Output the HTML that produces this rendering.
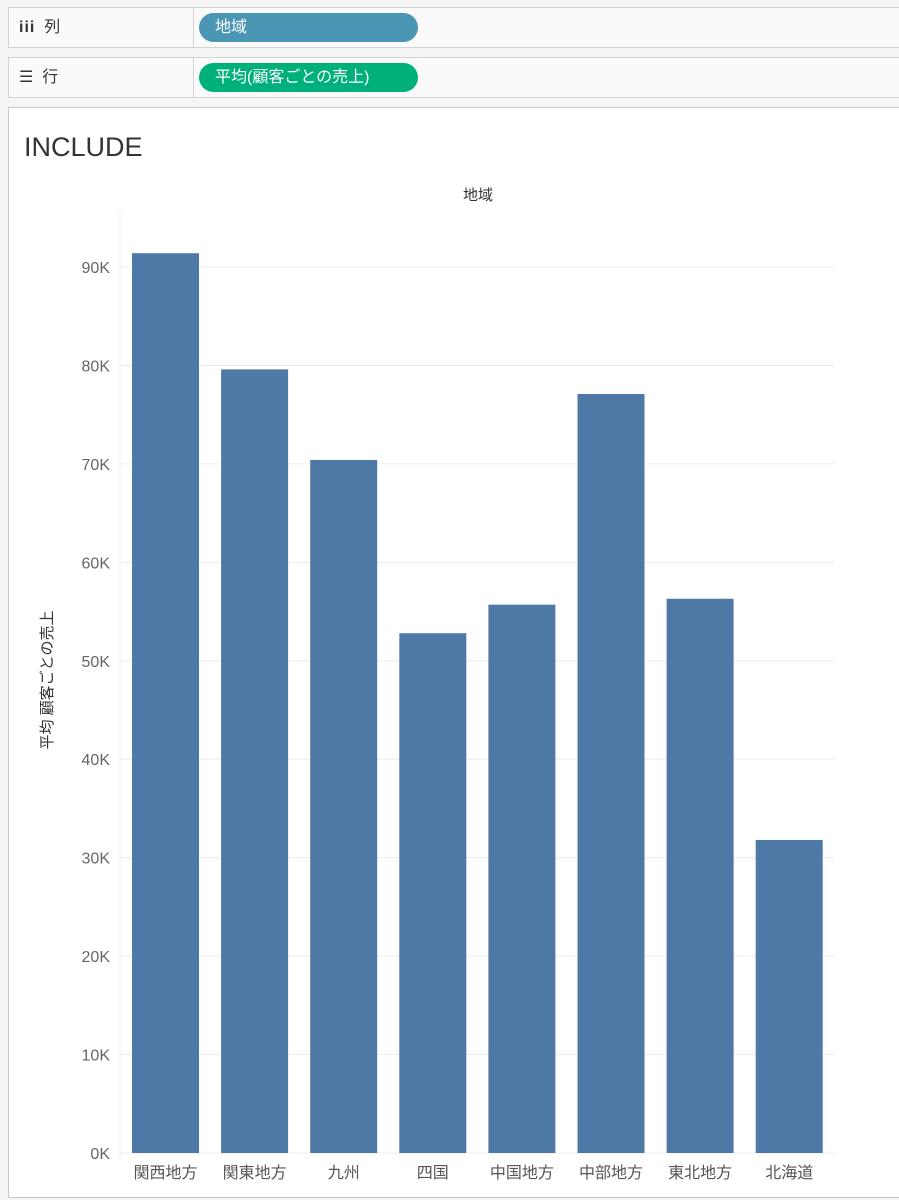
<!DOCTYPE html>
<html><head><meta charset="utf-8"><style>
body{margin:0;width:899px;height:1200px;background:#f5f5f5;font-family:"Liberation Sans","Noto Sans CJK JP",sans-serif;position:relative;overflow:hidden}
.shelf{position:absolute;left:8px;width:900px;height:39px;border:1px solid #d4d4d4;background:#fafafa}
.lab{position:absolute;left:0;top:0;width:184px;height:39px;border-right:1px solid #d4d4d4;font-size:16px;color:#333;line-height:39px}
.pill{position:absolute;left:190px;top:5px;width:219px;height:29px;border-radius:15px;color:#fff;font-size:16px;line-height:29px;padding-left:16px;box-sizing:border-box}
#panel{position:absolute;left:8px;top:107px;width:900px;height:1089px;border:1px solid #c8c8c8;background:#fff}
</style></head><body>
<div class="shelf" style="top:7px">
 <div class="lab"><span style="margin-left:10px;font-weight:bold;letter-spacing:1px">iii</span>&nbsp; 列</div>
 <div class="pill" style="background:#4a96b4">地域</div>
</div>
<div class="shelf" style="top:57px">
 <div class="lab"><span style="margin-left:10px">☰</span>&nbsp; 行</div>
 <div class="pill" style="background:#00b07a">平均(顧客ごとの売上)</div>
</div>
<div id="panel"></div>
<svg id="chart" width="899" height="1200" style="position:absolute;left:0;top:0">
 <text x="24" y="156" font-size="27" fill="#333" font-family="Liberation Sans,sans-serif" style="font-weight:300">INCLUDE</text>
 <text x="478" y="200" font-size="15" fill="#333" text-anchor="middle">地域</text>
 <text transform="translate(52,680) rotate(-90)" font-size="15" fill="#333" text-anchor="middle">平均 顧客ごとの売上</text>
 <g id="grid"></g><g id="bars"></g><g id="ticks"></g><g id="cats"></g>
</svg>
<script>
const categories=["関西地方","関東地方","九州","四国","中国地方","中部地方","東北地方","北海道"];
const values=[91400,79600,70400,52800,55700,77100,56300,31800];
const tickValues=[0,10000,20000,30000,40000,50000,60000,70000,80000,90000];
const tickLabels=["0K","10K","20K","30K","40K","50K","60K","70K","80K","90K"];
const NS="http://www.w3.org/2000/svg";
const y=v=>1153-v*(886/90000);
const x0=121,step=89.1;
const x=i=>x0+i*step;
function mk(t,a,p){const e=document.createElementNS(NS,t);for(const k in a)e.setAttribute(k,a[k]);document.getElementById(p).appendChild(e);return e;}
tickValues.forEach((v,i)=>{
 const g=mk('line',{x1:120,x2:834,y1:y(v),y2:y(v),stroke:'#ececec','stroke-width':1},'grid');
 
 
 const t=mk('text',{x:110,y:y(v)+6,'font-size':16,fill:'#666','text-anchor':'end'},'ticks');
 t.textContent=tickLabels[i];
 
 
});
mk('line',{x1:120,x2:120,y1:210,y2:1160,stroke:'#f0f0f0'},'grid');
categories.forEach((c,i)=>{
 const b=mk('rect',{x:x(i)+11,y:y(values[i]),width:67,height:y(0)-y(values[i]),fill:'#4e79a7'},'bars');
 
 
 const t=mk('text',{x:x(i)+44.5,y:1178,'font-size':16,fill:'#555','text-anchor':'middle'},'cats');
 t.textContent=c;
 
 
});
</script>
</body></html>
